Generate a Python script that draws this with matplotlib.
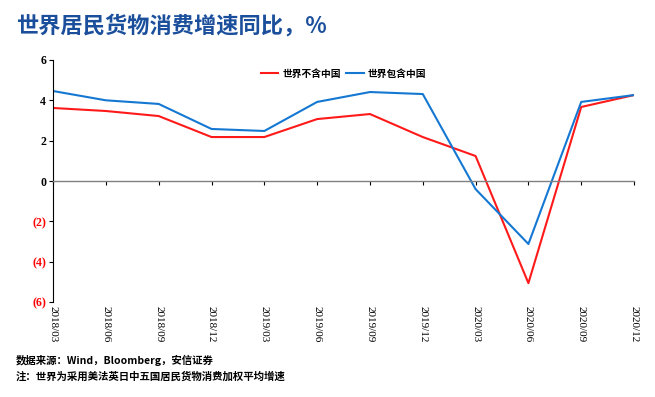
import numpy as np
import matplotlib
matplotlib.use("Agg")
import matplotlib.pyplot as plt

plt.rcParams['font.family'] = ['Noto Sans CJK SC', 'DejaVu Sans']

# data
quarters = ["2018/03", "2018/06", "2018/09", "2018/12", "2019/03", "2019/06",
            "2019/09", "2019/12", "2020/03", "2020/06", "2020/09", "2020/12"]
world_ex_china = [3.62, 3.47, 3.22, 2.18, 2.18, 3.07, 3.32, 2.18, 1.24, -5.06, 3.67, 4.26]
world_inc_china = [4.46, 4.00, 3.82, 2.58, 2.48, 3.92, 4.41, 4.31, -0.40, -3.12, 3.92, 4.26]
yticks = [6, 4, 2, 0, -2, -4, -6]

title = "世界居民货物消费增速同比，%"
source = "数据来源：Wind，Bloomberg，安信证券"
note = "注：世界为采用美法英日中五国居民货物消费加权平均增速"

fig = plt.figure(figsize=(6.55, 3.97), dpi=100)
ax = fig.add_axes([0.081, 0.239, 0.887, 0.61])

x = np.arange(len(quarters))
ax.plot(x, world_ex_china, color="#ff1a1a", lw=1.5, label="世界不含中国")
ax.plot(x, world_inc_china, color="#1478d2", lw=1.5, label="世界包含中国")

ax.set_xlim(0, len(quarters) - 1)
ax.set_ylim(-6, 6)

# y axis
ax.set_yticks(yticks)
ylabels = [str(v) if v >= 0 else "(%d)" % (-v) for v in yticks]
ax.set_yticklabels(ylabels, family="Liberation Serif", fontsize=8.5, fontweight="bold")
for lab, v in zip(ax.get_yticklabels(), yticks):
    lab.set_color("red" if v < 0 else "black")
ax.tick_params(axis="y", length=3, width=0.8, pad=2)

# x axis sits on zero, labels at bottom
ax.spines["top"].set_visible(False)
ax.spines["right"].set_visible(False)
ax.spines["bottom"].set_position(("data", 0))
ax.spines["bottom"].set_color("#808080")
ax.spines["bottom"].set_linewidth(1.0)
ax.set_xticks(x)
ax.tick_params(axis="x", length=3, width=0.8, labelbottom=False)
trans = ax.get_xaxis_transform()
for xi, q in zip(x, quarters):
    ax.text(xi, -0.015, q, transform=trans, rotation=-90, ha="center", va="top",
            family="Liberation Serif", fontsize=8)

leg = ax.legend(loc="upper center", bbox_to_anchor=(0.5, 1.0), ncol=2, frameon=False,
                fontsize=7, handlelength=1.8, columnspacing=0.6, handletextpad=0.4,
                prop={"weight": "bold", "size": 7})

fig.text(0.024, 0.935, title, fontsize=16, fontweight="bold", color="#1b4f9c",
         va="center")
fig.text(0.024, 0.093, source, fontsize=7.5, fontweight="bold", va="center")
fig.text(0.024, 0.052, note, fontsize=7.5, fontweight="bold", va="center")

fig.savefig("out.png", dpi=100)
